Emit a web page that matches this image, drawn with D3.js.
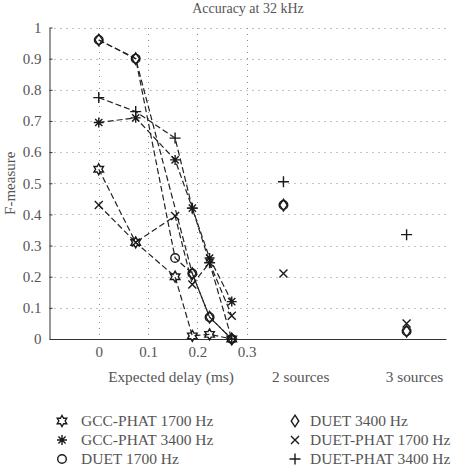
<!DOCTYPE html>
<html>
<head>
<meta charset="utf-8">
<script src="https://cdn.jsdelivr.net/npm/d3@7"></script>
<style>
  body { margin: 0; background: #fff; }
  text { font-family: "Liberation Serif", serif; fill: #555; }
</style>
</head>
<body>
<svg id="chart" width="451" height="467"></svg>
<script>
// expected delays (ms) and the two extra "sources" columns
const delays = [0, 0.075, 0.155, 0.19, 0.225, 0.27]
const sourcePos = [0.375, 0.625]
const sourceLabels = ['2 sources', '3 sources']
const sourceLabelPos = [0.41, 0.641]
const xTicks = [0, 0.1, 0.2, 0.3]
const yTicks = [0, 0.1, 0.2, 0.3, 0.4, 0.5, 0.6, 0.7, 0.8, 0.9, 1]

// F-measure per delay (null = no marker)
const gcc1700 = [0.545, 0.31, 0.20, 0.01, 0.015, 0]
const gcc3400 = [0.695, 0.71, 0.575, 0.42, 0.26, 0.12]
const duet1700 = [0.96, 0.9, 0.26, 0.21, 0.07, 0]
const duet3400 = [0.96, 0.9, null, 0.21, 0.07, 0]
const duetPhat1700 = [0.43, 0.31, 0.395, 0.175, 0.245, 0.075]
const duetPhat3400 = [0.775, 0.73, 0.645, 0.42, 0.245, 0]

// 2 sources / 3 sources
const gcc1700Src = [null, null]
const gcc3400Src = [null, null]
const duet1700Src = [0.43, 0.025]
const duet3400Src = [0.43, 0.025]
const duetPhat1700Src = [0.21, 0.05]
const duetPhat3400Src = [0.505, 0.335]

const seriesNames = ['GCC-PHAT 1700 Hz', 'GCC-PHAT 3400 Hz', 'DUET 1700 Hz',
  'DUET 3400 Hz', 'DUET-PHAT 1700 Hz', 'DUET-PHAT 3400 Hz']
const seriesMarkers = ['hexagram', 'asterisk', 'circle', 'diamond', 'cross', 'plus']

const series = [
  [gcc1700, gcc1700Src], [gcc3400, gcc3400Src], [duet1700, duet1700Src],
  [duet3400, duet3400Src], [duetPhat1700, duetPhat1700Src], [duetPhat3400, duetPhat3400Src]
].map((s, i) => ({
  name: seriesNames[i],
  marker: seriesMarkers[i],
  line: delays.map((d, j) => ({ x: d, y: s[0][j] })).filter(p => p.y != null),
  extra: sourcePos.map((d, j) => ({ x: d, y: s[1][j] })).filter(p => p.y != null)
}))

const svg = d3.select('#chart')
const ink = '#1a1a1a'

const x = d3.scaleLinear().domain([-0.1, 0.705]).range([49.5, 446])
const y = d3.scaleLinear().domain([0, 1]).range([339, 27.5])

// title
svg.append('text')
  .attr('x', 248).attr('y', 13)
  .attr('text-anchor', 'middle')
  .attr('font-size', '14px')
  .text('Accuracy at 32 kHz')

// dotted grid
const grid = svg.append('g')
  .attr('stroke', '#888')
  .attr('stroke-width', 1)
  .attr('stroke-dasharray', '1,5')

grid.selectAll('.hg')
  .data(yTicks.filter(d => d > 0))
  .enter()
  .append('line')
  .attr('x1', x(-0.1) + 5).attr('x2', x.range()[1])
  .attr('y1', d => Math.round(y(d)) + 0.5)
  .attr('y2', d => Math.round(y(d)) + 0.5)

grid.selectAll('.vg')
  .data(xTicks)
  .enter()
  .append('line')
  .attr('x1', d => Math.round(x(d)) + 0.5)
  .attr('x2', d => Math.round(x(d)) + 0.5)
  .attr('y1', y(0) - 4).attr('y2', y(1))

// axes
const yAxis = d3.axisLeft(y)
  .tickValues(yTicks)
  .tickFormat(d3.format('~g'))
  .tickSizeInner(-3)
  .tickSizeOuter(0)
  .tickPadding(8)

const yG = svg.append('g')
  .attr('transform', `translate(${x(-0.1)},0)`)
  .call(yAxis)
yG.select('.domain').attr('stroke', '#333')
yG.selectAll('.tick line').attr('stroke', '#333')
yG.selectAll('.tick text')
  .attr('font-family', '"Liberation Serif", serif')
  .attr('font-size', '15px')
  .attr('fill', '#555')

const xAxis = d3.axisBottom(x)
  .tickValues(xTicks)
  .tickFormat(d3.format('~g'))
  .tickSizeInner(0)
  .tickSizeOuter(0)
  .tickPadding(7)

const xG = svg.append('g')
  .attr('transform', `translate(0,${y(0)})`)
  .call(xAxis)
xG.select('.domain').attr('stroke', '#333')
xG.selectAll('.tick text')
  .attr('font-family', '"Liberation Serif", serif')
  .attr('font-size', '15px')
  .attr('fill', '#555')

// axis titles
svg.append('text')
  .attr('transform', `translate(15,${(y(0) + y(1)) / 2}) rotate(-90)`)
  .attr('text-anchor', 'middle')
  .attr('font-size', '15px')
  .text('F-measure')

svg.append('text')
  .attr('x', 171).attr('y', 382)
  .attr('text-anchor', 'middle')
  .attr('font-size', '15.3px')
  .text('Expected delay (ms)')

svg.selectAll('.srcLabel')
  .data(sourceLabels)
  .enter()
  .append('text')
  .attr('x', (d, i) => x(sourceLabelPos[i]))
  .attr('y', 382)
  .attr('text-anchor', 'middle')
  .attr('font-size', '15.3px')
  .text(d => d)

// marker drawing
function drawMarker(g, type, cx, cy) {
  const m = g.append('g')
    .attr('transform', `translate(${cx},${cy})`)
    .attr('fill', 'none')
    .attr('stroke', ink)
    .attr('stroke-width', 1.4)
  if (type === 'circle') {
    m.append('circle').attr('r', 4.3)
  } else if (type === 'diamond') {
    m.append('path').attr('d', 'M0,-5.8L3.8,0L0,5.8L-3.8,0Z')
  } else if (type === 'cross') {
    m.append('path').attr('d', 'M-4,-4L4,4M-4,4L4,-4')
  } else if (type === 'plus') {
    m.append('path').attr('d', 'M-5.5,0L5.5,0M0,-5.5L0,5.5')
  } else if (type === 'asterisk') {
    m.append('path').attr('d', 'M-5,0L5,0M0,-5L0,5M-3.6,-3.6L3.6,3.6M-3.6,3.6L3.6,-3.6')
  } else if (type === 'hexagram') {
    const pts = d3.range(12).map(k => {
      const r = k % 2 === 0 ? 5.5 : 5.5 / Math.sqrt(3)
      const a = Math.PI / 6 * k - Math.PI / 2
      return [r * Math.cos(a), r * Math.sin(a)]
    })
    m.append('path').attr('d', 'M' + pts.join('L') + 'Z')
  }
}

// dashed lines
const lineGen = d3.line().x(d => x(d.x)).y(d => y(d.y))
const plot = svg.append('g')

plot.selectAll('.series')
  .data(series)
  .enter()
  .append('path')
  .attr('d', d => lineGen(d.line))
  .attr('fill', 'none')
  .attr('stroke', '#222')
  .attr('stroke-width', 1.2)
  .attr('stroke-dasharray', '6,3')

series.forEach(s => {
  s.line.concat(s.extra).forEach(p => drawMarker(plot, s.marker, x(p.x), y(p.y)))
})

// legend
const legendRows = [421, 440, 459]
const legendCols = [[62, 81], [295, 310]]
seriesNames.forEach((name, i) => {
  const col = legendCols[Math.floor(i / 3)]
  const row = legendRows[i % 3]
  drawMarker(svg, seriesMarkers[i], col[0], row)
  svg.append('text')
    .attr('x', col[1]).attr('y', row + 5)
    .attr('font-size', '15.5px')
    .text(name)
})
</script>
</body>
</html>
